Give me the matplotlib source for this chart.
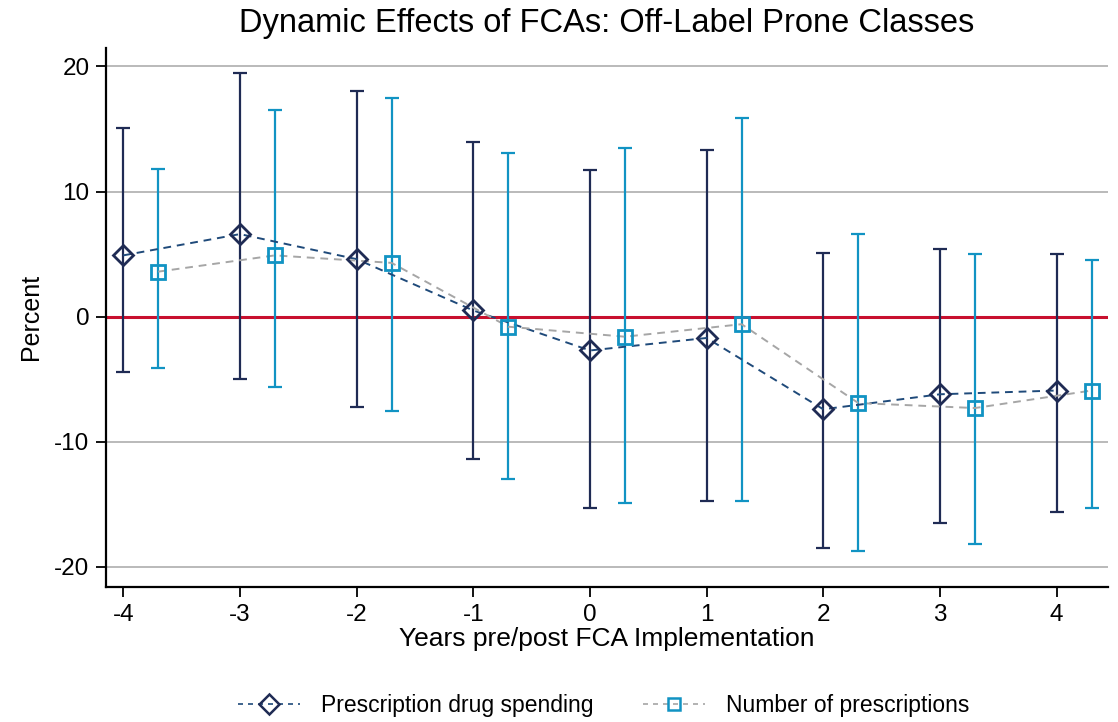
import numpy as np
import matplotlib
matplotlib.use("Agg")
import matplotlib.pyplot as plt
from matplotlib.lines import Line2D

plt.rcParams['font.family'] = ['Liberation Sans', 'DejaVu Sans']
plt.rcParams['axes.unicode_minus'] = False

# === Datos: coeficientes e intervalos de confianza ===
years = [-4, -3, -2, -1, 0, 1, 2, 3, 4]

spend_coef = [4.9, 6.6, 4.6, 0.5, -2.7, -1.7, -7.4, -6.2, -5.9]
spend_lo = [-4.4, -5.0, -7.2, -11.4, -15.3, -14.7, -18.5, -16.5, -15.6]
spend_hi = [15.1, 19.5, 18.0, 14.0, 11.7, 13.3, 5.1, 5.4, 5.0]

presc_coef = [3.6, 4.9, 4.3, -0.8, -1.6, -0.6, -6.9, -7.3, -5.9]
presc_lo = [-4.1, -5.6, -7.5, -13.0, -14.9, -14.7, -18.7, -18.2, -15.3]
presc_hi = [11.8, 16.5, 17.5, 13.1, 13.5, 15.9, 6.6, 5.0, 4.5]

OFFSET = 0.3

NAVY = "#1f2b54"
NAVY_LINE = "#1f4a7a"
CYAN = "#1193c3"
GRAY = "#a6a6a6"
RED = "#c8102e"

fig = plt.figure(figsize=(11.18, 7.22), dpi=100)
ax = fig.add_axes([0.095, 0.187, 0.896, 0.747])

x1 = np.array(years, dtype=float)
x2 = x1 + OFFSET

y1 = np.array(spend_coef)
y2 = np.array(presc_coef)
err1 = [y1 - np.array(spend_lo), np.array(spend_hi) - y1]
err2 = [y2 - np.array(presc_lo), np.array(presc_hi) - y2]

# líneas de referencia
for g in [-20, -10, 10, 20]:
    ax.axhline(g, color="#b4b4b4", linewidth=1.3, zorder=0)
ax.axhline(0, color=RED, linewidth=2.2, zorder=1)

# barras de error
ax.errorbar(x1, y1, yerr=err1, fmt="none", ecolor=NAVY, elinewidth=1.6,
            capsize=4.7, capthick=1.6, zorder=2)
ax.errorbar(x2, y2, yerr=err2, fmt="none", ecolor=CYAN, elinewidth=1.6,
            capsize=4.7, capthick=1.6, zorder=2)

# lineas punteadas que unen los puntos
ax.plot(x1, y1, linestyle=(0, (4, 3)), color=NAVY_LINE, linewidth=1.4, zorder=3)
ax.plot(x2, y2, linestyle=(0, (4, 3)), color=GRAY, linewidth=1.4, zorder=3)

# marcadores
ax.plot(x1, y1, linestyle="none", marker="D", markersize=10, markerfacecolor="none",
        markeredgecolor=NAVY, markeredgewidth=2, zorder=4)
ax.plot(x2, y2, linestyle="none", marker="s", markersize=10, markerfacecolor="none",
        markeredgecolor=CYAN, markeredgewidth=2, zorder=4)

ax.set_xlim(-4.146, 4.44)
ax.set_ylim(-21.6, 21.5)
ax.set_xticks(years)
ax.set_xticklabels([str(v) for v in years])
ax.set_yticks([-20, -10, 0, 10, 20])

for side in ["top", "right"]:
    ax.spines[side].set_visible(False)
ax.spines["left"].set_linewidth(1.6)
ax.spines["bottom"].set_linewidth(1.6)
ax.tick_params(axis="both", labelsize=17.5, length=7, width=1.3, pad=5)

ax.set_title("Dynamic Effects of FCAs: Off-Label Prone Classes", fontsize=23.5, pad=11)
ax.set_xlabel("Years pre/post FCA Implementation", fontsize=19, labelpad=1)
ax.set_ylabel("Percent", fontsize=18, labelpad=8)

handles = [
    Line2D([0], [0], linestyle=(0, (3, 3)), color=NAVY_LINE, linewidth=1.2, marker="D",
           markersize=10, markerfacecolor="none", markeredgecolor=NAVY, markeredgewidth=1.8),
    Line2D([0], [0], linestyle=(0, (3, 3)), color=GRAY, linewidth=1.2, marker="s",
           markersize=8, markerfacecolor="none", markeredgecolor=CYAN, markeredgewidth=1.8),
]
fig.legend(handles, ["Prescription drug spending", "Number of prescriptions"],
           loc="lower center", bbox_to_anchor=(0.54, -0.022), ncol=2, frameon=False,
           fontsize=16.5, handlelength=2.7, handletextpad=0.9, columnspacing=2.2)

fig.savefig("out.png", dpi=100)
